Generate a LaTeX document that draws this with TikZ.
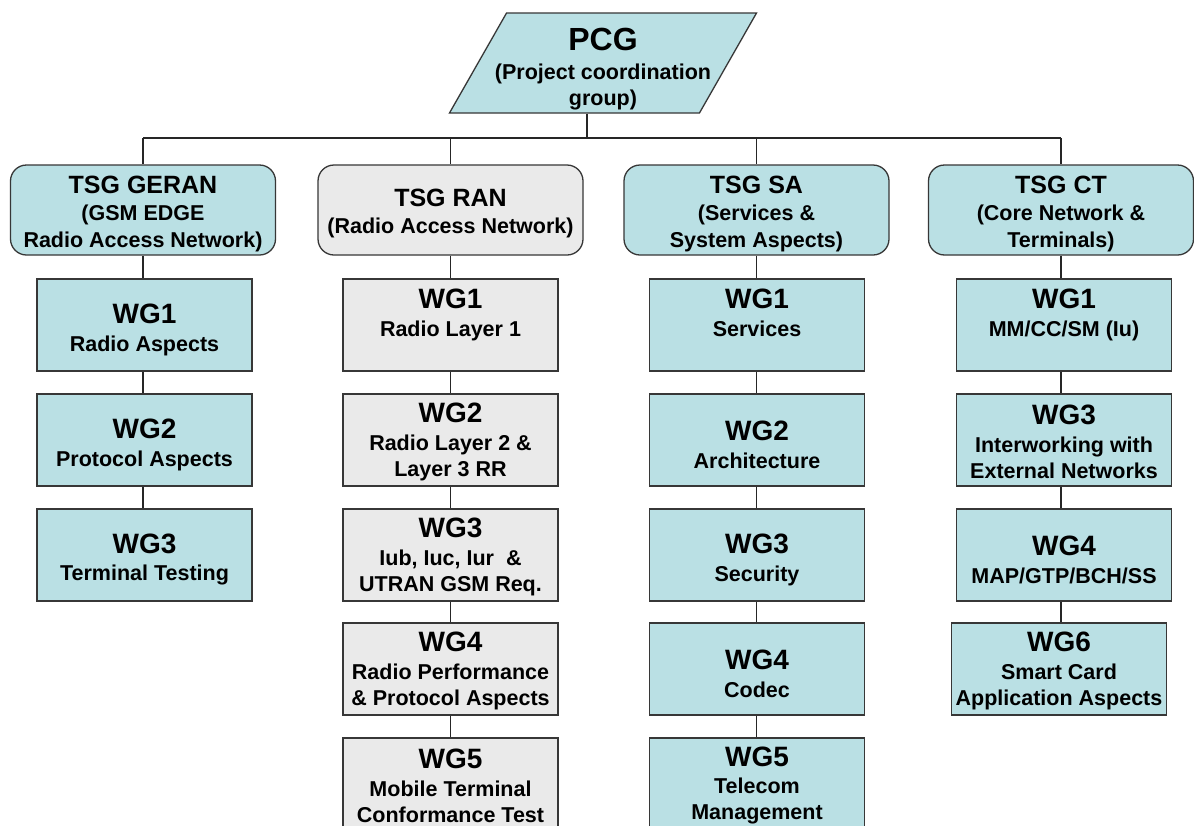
\documentclass[tikz,border=0pt]{standalone}
\usepackage{fontspec}
\setmainfont{Liberation Sans}
\usetikzlibrary{shapes.geometric}
\definecolor{tealfill}{RGB}{186,224,228}
\definecolor{grayfill}{RGB}{234,234,234}
\definecolor{edgecol}{RGB}{55,55,55}
\newcommand\wgt[1]{{\fontsize{28}{29}\selectfont\rule{0pt}{29pt}#1}\\[1.5pt]}
\newcommand\wgtt[1]{{\fontsize{28}{29}\selectfont\rule{0pt}{23pt}#1}\\[1.5pt]}
\newcommand\tsgt[1]{{\fontsize{25}{27}\selectfont\rule{0pt}{25pt}#1}\\[0pt]}
\tikzset{
  box/.style={draw=edgecol, line width=1.3pt, minimum width=215, minimum height=92,
    inner sep=0pt, align=center, text=black, font=\bfseries\fontsize{21.5}{26}\selectfont},
  tealbox/.style={box, fill=tealfill},
  graybox/.style={box, fill=grayfill},
  tsgbox/.style={draw=edgecol, line width=1.3pt, rounded corners=16, minimum width=265,
    minimum height=90, inner sep=0pt, align=center, text=black,
    font=\bfseries\fontsize{21.5}{27}\selectfont},
  pcgbox/.style={draw=edgecol, line width=1.3pt, fill=tealfill, trapezium,
    trapezium left angle=74, trapezium right angle=106, trapezium stretches=true,
    minimum width=307, minimum height=100, inner sep=0pt},
  pcgtextstyle/.style={align=center, text=black, inner sep=0pt,
    font=\bfseries\fontsize{21.5}{26}\selectfont},
  link/.style={line width=1.3pt, draw=black!85},
}
\begin{document}
\begin{tikzpicture}[x=1pt,y=-1pt]
\useasboundingbox (0,0) rectangle (1194,825);
\fill[white] (0,0) rectangle (1194,825);

% PCG
\node[pcgbox] (pcg) at (603,63) {\phantom{X}};
\node[pcgtextstyle] (pcgtext) at (603,69) {{\fontsize{32}{33}\selectfont PCG}\\[3.4pt](Project coordination\\group)};

% TSGs
\node[tsgbox, fill=tealfill] (geran) at (143,210) {\tsgt{TSG GERAN}(GSM EDGE\\Radio Access Network)};
\node[tsgbox, fill=grayfill] (ran) at (450.5,210) {\tsgt{TSG RAN}(Radio Access Network)};
\node[tsgbox, fill=tealfill] (sa) at (756.5,210) {\tsgt{TSG SA}(Services \&\\System Aspects)};
\node[tsgbox, fill=tealfill] (ct) at (1061,210) {\tsgt{TSG CT}(Core Network \&\\Terminals)};

% GERAN WGs
\node[tealbox] (g1) at (144.5,325) {\wgt{WG1}Radio Aspects};
\node[tealbox] (g2) at (144.5,440) {\wgt{WG2}Protocol Aspects};
\node[tealbox] (g3) at (144.5,555) {\wgt{WG3}Terminal Testing};

% RAN WGs
\node[graybox] (r1) at (450.5,325) {\wgt{WG1}Radio Layer 1\\\strut};
\node[graybox] (r2) at (450.5,440) {\wgtt{WG2}Radio Layer 2 \&\\Layer 3 RR};
\node[graybox] (r3) at (450.5,555) {\wgtt{WG3}Iub, Iuc, Iur \ \&\\UTRAN GSM Req.};
\node[graybox] (r4) at (450.5,669) {\wgtt{WG4}Radio Performance\\\& Protocol Aspects};
\node[graybox] (r5) at (450.5,784) {\wgtt{WG5}Mobile Terminal\\Conformance Test};

% SA WGs
\node[tealbox] (s1) at (757,325) {\wgt{WG1}Services\\\strut};
\node[tealbox] (s2) at (757,440) {\wgt{WG2}Architecture};
\node[tealbox] (s3) at (757,555) {\wgt{WG3}Security};
\node[tealbox] (s4) at (757,669) {\wgt{WG4}Codec};
\node[tealbox] (s5) at (757,784) {\wgtt{WG5}Telecom\\Management};

% CT WGs
\node[tealbox] (c1) at (1064,325) {\wgt{WG1}MM/CC/SM (Iu)\\\strut};
\node[tealbox] (c3) at (1064,440) {\wgtt{WG3}Interworking with\\External Networks};
\node[tealbox] (c4) at (1064,555) {\wgt{WG4}MAP/GTP/BCH/SS};
\node[tealbox] (c6) at (1059,669) {\wgtt{WG6}Smart Card\\Application Aspects};

% connectors
\coordinate (bus) at (587,138);
\draw[link] (pcg.south -| bus) -- (bus);
\draw[link] (geran.north |- bus) -- (ct.north |- bus);
\foreach \t in {geran,ran,sa,ct} \draw[link] (\t.north |- bus) -- (\t.north);
\draw[link] (geran.south) -- (geran.south |- g1.north);
\draw[link] (g1.south -| geran.south) -- (geran.south |- g2.north);
\draw[link] (g2.south -| geran.south) -- (geran.south |- g3.north);
\draw[link] (ran.south) -- (ran.south |- r1.north);
\draw[link] (r1.south -| ran.south) -- (ran.south |- r2.north);
\draw[link] (r2.south -| ran.south) -- (ran.south |- r3.north);
\draw[link] (r3.south -| ran.south) -- (ran.south |- r4.north);
\draw[link] (r4.south -| ran.south) -- (ran.south |- r5.north);
\draw[link] (sa.south) -- (sa.south |- s1.north);
\draw[link] (s1.south -| sa.south) -- (sa.south |- s2.north);
\draw[link] (s2.south -| sa.south) -- (sa.south |- s3.north);
\draw[link] (s3.south -| sa.south) -- (sa.south |- s4.north);
\draw[link] (s4.south -| sa.south) -- (sa.south |- s5.north);
\draw[link] (ct.south) -- (ct.south |- c1.north);
\draw[link] (c1.south -| ct.south) -- (ct.south |- c3.north);
\draw[link] (c3.south -| ct.south) -- (ct.south |- c4.north);
\draw[link] (c4.south -| ct.south) -- (ct.south |- c6.north);
\end{tikzpicture}
\end{document}
